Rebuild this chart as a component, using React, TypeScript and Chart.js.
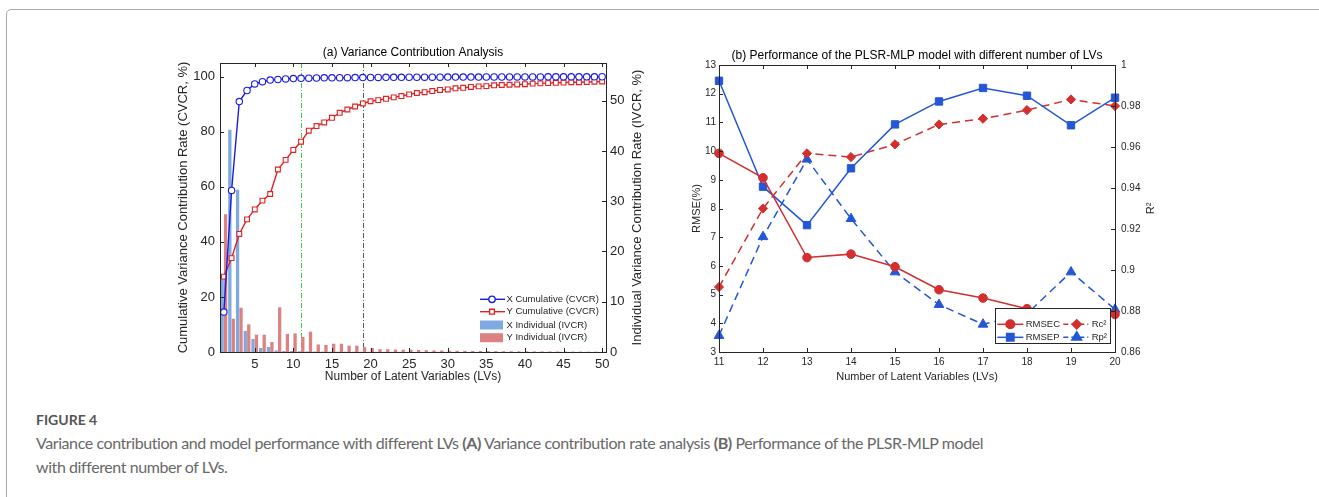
import React, { useEffect, useRef } from "react";
import { Chart, registerables } from "chart.js";
import { drawPoint } from "chart.js/helpers";

Chart.register(...registerables);

const FONT = '"Liberation Sans", Arial, Helvetica, sans-serif';
const TEXT = "#262626";

// ---------- Panel (a): variance contribution ----------
const lvsA = [
  1, 2, 3, 4, 5, 6, 7, 8, 9, 10, 11, 12, 13, 14, 15, 16, 17, 18, 19, 20, 21, 22, 23, 24, 25,
  26, 27, 28, 29, 30, 31, 32, 33, 34, 35, 36, 37, 38, 39, 40, 41, 42, 43, 44, 45, 46, 47, 48, 49, 50,
];
const xCumulative = [
  14.5, 58.7, 91.0, 95.0, 97.4, 98.2, 98.8, 99.0, 99.2, 99.35, 99.45, 99.5, 99.55, 99.6, 99.62,
  99.65, 99.67, 99.7, 99.72, 99.74, 99.76, 99.78, 99.8, 99.81, 99.82, 99.83, 99.84, 99.85, 99.86,
  99.87, 99.88, 99.89, 99.9, 99.9, 99.91, 99.92, 99.92, 99.93, 99.94, 99.94, 99.95, 99.95, 99.96,
  99.96, 99.97, 99.97, 99.98, 99.98, 99.99, 100.0,
];
const yCumulative = [
  27.4, 34.1, 42.9, 48.2, 51.8, 55.0, 57.4, 66.3, 69.8, 73.4, 76.4, 80.4, 82.1, 83.4, 85.1, 86.9,
  88.1, 89.2, 90.3, 91.1, 91.5, 92.0, 92.5, 93.0, 93.6, 94.1, 94.4, 94.8, 95.2, 95.4, 95.8, 96.0,
  96.3, 96.5, 96.6, 96.9, 97.0, 97.1, 97.2, 97.3, 97.5, 97.6, 97.7, 97.8, 97.9, 98.0, 98.0, 98.1,
  98.2, 98.3,
];
const xIndividual = [
  14.5, 44.2, 32.3, 4.2, 2.6, 0.8, 1.0, 0.3, 0.2, 0.2, 0.15, 0.12, 0.1, 0.08, 0.07, 0.06, 0.05,
  0.05, 0.04, 0.04, 0.03, 0.03, 0.03, 0.03, 0.02, 0.02, 0.02, 0.02, 0.02, 0.02, 0.02, 0.01, 0.01,
  0.01, 0.01, 0.01, 0.01, 0.01, 0.01, 0.01, 0.01, 0.01, 0.01, 0.01, 0.01, 0.01, 0.01, 0.01, 0.01, 0.01,
];
const yIndividual = [
  27.4, 6.6, 8.8, 5.5, 3.45, 3.45, 2.0, 8.9, 3.6, 3.7, 3.0, 4.05, 1.5, 1.4, 1.65, 1.65, 1.25, 1.25,
  1.0, 0.8, 0.55, 0.55, 0.47, 0.45, 0.45, 0.4, 0.35, 0.3, 0.3, 0.25, 0.25, 0.22, 0.2, 0.2, 0.18,
  0.17, 0.16, 0.15, 0.14, 0.13, 0.12, 0.11, 0.1, 0.1, 0.09, 0.08, 0.08, 0.07, 0.06, 0.05,
];
const cvcrTicks = [0, 20, 40, 60, 80, 100];
const ivcrTicks = [0, 10, 20, 30, 40, 50];
const lvTicksA = [5, 10, 15, 20, 25, 30, 35, 40, 45, 50];
const referenceLVs = [11, 19];

// ---------- Panel (b): PLSR-MLP performance ----------
const lvsB = [11, 12, 13, 14, 15, 16, 17, 18, 19, 20];
const rmsec = [9.92, 9.07, 6.29, 6.41, 5.97, 5.17, 4.88, 4.51, 4.12, 4.31];
const rmsep = [12.45, 8.76, 7.42, 9.4, 10.93, 11.73, 12.2, 11.93, 10.9, 11.86];
const rc2 = [0.8917, 0.93, 0.9569, 0.9551, 0.9613, 0.971, 0.9738, 0.978, 0.9832, 0.98];
const rp2 = [0.868, 0.9162, 0.954, 0.925, 0.899, 0.8831, 0.8735, 0.8787, 0.899, 0.8808];
const rmseTicks = [3, 4, 5, 6, 7, 8, 9, 10, 11, 12, 13];
const r2Ticks = [0.86, 0.88, 0.9, 0.92, 0.94, 0.96, 0.98, 1];

const A_BLUE = "#1c1ce0";
const A_RED = "#e02222";
const BAR_BLUE = "#7eaadf";
const BAR_RED = "#dc8282";
const B_RED = "#d42f2f";
const B_BLUE = "#2457d6";

function px(v: number) {
  return Math.round(v) + 0.5;
}

function drawFrame(ctx: CanvasRenderingContext2D, a: any, xs: number[], yl: number[], yr: number[]) {
  const len = 4;
  ctx.save();
  ctx.strokeStyle = TEXT;
  ctx.lineWidth = 1;
  ctx.setLineDash([]);
  ctx.strokeRect(px(a.left), px(a.top), Math.round(a.right) - Math.round(a.left), Math.round(a.bottom) - Math.round(a.top));
  ctx.beginPath();
  xs.forEach((x) => {
    ctx.moveTo(px(x), a.bottom);
    ctx.lineTo(px(x), a.bottom - len);
    ctx.moveTo(px(x), a.top);
    ctx.lineTo(px(x), a.top + len);
  });
  yl.forEach((y) => {
    ctx.moveTo(a.left, px(y));
    ctx.lineTo(a.left + len, px(y));
  });
  yr.forEach((y) => {
    ctx.moveTo(a.right, px(y));
    ctx.lineTo(a.right - len, px(y));
  });
  ctx.stroke();
  ctx.restore();
}

function rotatedText(ctx: CanvasRenderingContext2D, text: string, x: number, y: number, size: number) {
  ctx.save();
  ctx.translate(x, y);
  ctx.rotate(-Math.PI / 2);
  ctx.font = `${size}px ${FONT}`;
  ctx.fillStyle = TEXT;
  ctx.textAlign = "center";
  ctx.textBaseline = "middle";
  ctx.fillText(text, 0, 0);
  ctx.restore();
}

function marker(ctx: CanvasRenderingContext2D, style: string, r: number, x: number, y: number, stroke: string, fill: string, bw: number) {
  ctx.save();
  ctx.setLineDash([]);
  ctx.strokeStyle = stroke;
  ctx.fillStyle = fill;
  drawPoint(ctx, { pointStyle: style as any, radius: r, rotation: 0, borderWidth: bw } as any, x, y);
  ctx.restore();
}

const panelAPlugin = {
  id: "panelA",
  beforeDatasetsDraw(chart: any) {
    const { ctx, chartArea: a, scales } = chart;
    const colors = ["#3fd03f", "#5a5a5a"];
    ctx.save();
    ctx.lineWidth = 1;
    ctx.setLineDash([5, 2, 1, 2]);
    referenceLVs.forEach((lv, i) => {
      const x = px(scales.x.getPixelForValue(lvsA.indexOf(lv)));
      ctx.strokeStyle = colors[i];
      ctx.beginPath();
      ctx.moveTo(x, a.top);
      ctx.lineTo(x, a.bottom);
      ctx.stroke();
    });
    ctx.restore();
  },
  afterDatasetsDraw(chart: any) {
    const { ctx, chartArea: a, scales } = chart;
    const xs = lvTicksA.map((lv) => scales.x.getPixelForValue(lvsA.indexOf(lv)));
    const yl = cvcrTicks.map((v) => scales.y.getPixelForValue(v));
    const yr = ivcrTicks.map((v) => scales.y1.getPixelForValue(v));
    drawFrame(ctx, a, xs, yl, yr);

    // legend
    const items = [
      { kind: "line", color: A_BLUE, style: "circle", r: 3.2, text: "X Cumulative (CVCR)", dy: -52.7 },
      { kind: "line", color: A_RED, style: "rect", r: 3.4, text: "Y Cumulative (CVCR)", dy: -40.3 },
      { kind: "patch", color: BAR_BLUE, text: "X Individual (IVCR)", dy: -27 },
      { kind: "patch", color: BAR_RED, text: "Y Individual (IVCR)", dy: -14.3 },
    ];
    ctx.save();
    ctx.font = `9.5px ${FONT}`;
    ctx.textBaseline = "middle";
    items.forEach((it) => {
      const y = a.bottom + it.dy;
      if (it.kind === "line") {
        ctx.strokeStyle = it.color;
        ctx.lineWidth = 1.4;
        ctx.beginPath();
        ctx.moveTo(a.right - 126, y);
        ctx.lineTo(a.right - 101, y);
        ctx.stroke();
        marker(ctx, it.style!, it.r!, a.right - 114, y, it.color, "#fff", 1.1);
      } else {
        ctx.fillStyle = it.color;
        ctx.fillRect(a.right - 126, y - 4.5, 23, 9);
      }
      ctx.fillStyle = TEXT;
      ctx.fillText(it.text, a.right - 99.5, y);
    });
    ctx.restore();

    rotatedText(ctx, "Individual Variance Contribution Rate (IVCR, %)", a.right + 31, (a.top + a.bottom) / 2, 13);
  },
};

const panelBPlugin = {
  id: "panelB",
  afterDatasetsDraw(chart: any) {
    const { ctx, chartArea: a, scales } = chart;
    const xs = lvsB.map((_, i) => scales.x.getPixelForValue(i));
    const yl = rmseTicks.map((v) => scales.y.getPixelForValue(v));
    const yr = r2Ticks.map((v) => scales.y1.getPixelForValue(v));
    drawFrame(ctx, a, xs, yl, yr);

    // legend box
    ctx.save();
    const L = a.right - 120;
    const T = a.bottom - 43.7;
    ctx.fillStyle = "#fff";
    ctx.fillRect(L, T, 115, 35);
    ctx.strokeStyle = TEXT;
    ctx.lineWidth = 1;
    ctx.strokeRect(px(L), px(T), 115, 35);
    const items = [
      { col: 0, row: -27.7, color: B_RED, style: "circle", r: 4.3, dash: [] as number[], text: "RMSEC" },
      { col: 0, row: -14.7, color: B_BLUE, style: "rect", r: 5.2, dash: [] as number[], text: "RMSEP" },
      { col: 1, row: -27.7, color: B_RED, style: "rectRot", r: 4.6, dash: [5, 3], text: "Rc²" },
      { col: 1, row: -14.7, color: B_BLUE, style: "triangle", r: 5.6, dash: [5, 3], text: "Rp²" },
    ];
    ctx.font = `9.5px ${FONT}`;
    ctx.textBaseline = "middle";
    items.forEach((it) => {
      const x0 = it.col === 0 ? a.right - 117.7 : a.right - 51.7;
      const x1 = it.col === 0 ? a.right - 91.7 : a.right - 26.7;
      const xm = it.col === 0 ? a.right - 104.7 : a.right - 38.3;
      const xt = it.col === 0 ? a.right - 89.3 : a.right - 23.3;
      const y = a.bottom + it.row;
      ctx.strokeStyle = it.color;
      ctx.lineWidth = 1.5;
      ctx.setLineDash(it.dash);
      ctx.beginPath();
      ctx.moveTo(x0, y);
      ctx.lineTo(x1, y);
      ctx.stroke();
      marker(ctx, it.style, it.r, xm, y, it.color, it.color, 1);
      ctx.fillStyle = TEXT;
      ctx.fillText(it.text, xt, y);
    });
    ctx.restore();

    rotatedText(ctx, "R²", a.right + 36, (a.top + a.bottom) / 2, 11);
  },
};

function buildA(canvas: HTMLCanvasElement) {
  return new Chart(canvas, {
    type: "bar",
    data: {
      labels: lvsA.map(String),
      datasets: [
        {
          type: "line",
          label: "X Cumulative (CVCR)",
          data: xCumulative,
          yAxisID: "y",
          borderColor: A_BLUE,
          borderWidth: 1.4,
          pointStyle: "circle",
          pointRadius: 3.2,
          pointBorderWidth: 1.1,
          pointBorderColor: A_BLUE,
          pointBackgroundColor: "#fff",
          order: 1,
        },
        {
          type: "line",
          label: "Y Cumulative (CVCR)",
          data: yCumulative,
          yAxisID: "y",
          borderColor: A_RED,
          borderWidth: 1.4,
          pointStyle: "rect",
          pointRadius: 3.4,
          pointBorderWidth: 1.1,
          pointBorderColor: A_RED,
          pointBackgroundColor: "#fff",
          order: 1,
        },
        {
          type: "bar",
          label: "X Individual (IVCR)",
          data: xIndividual,
          yAxisID: "y1",
          backgroundColor: BAR_BLUE,
          categoryPercentage: 0.9,
          barPercentage: 0.95,
          order: 2,
        },
        {
          type: "bar",
          label: "Y Individual (IVCR)",
          data: yIndividual,
          yAxisID: "y1",
          backgroundColor: BAR_RED,
          categoryPercentage: 0.9,
          barPercentage: 0.95,
          order: 2,
        },
      ] as any,
    },
    options: {
      responsive: false,
      animation: false,
      layout: { padding: 0 },
      plugins: {
        legend: { display: false },
        tooltip: { enabled: false },
        title: {
          display: true,
          text: "(a) Variance Contribution Analysis",
          color: "#000",
          font: { family: FONT, size: 12, weight: "normal" },
          padding: { top: 5.8, bottom: 2.8 },
        },
      },
      scales: {
        x: {
          type: "category",
          offset: true,
          grid: { display: false, drawTicks: false },
          border: { display: false },
          ticks: {
            autoSkip: false,
            maxRotation: 0,
            padding: 4.2,
            color: TEXT,
            font: { family: FONT, size: 13 },
            callback: (_v: any, i: number) => (lvTicksA.includes(lvsA[i]) ? String(lvsA[i]) : ""),
          },
          title: {
            display: true,
            text: "Number of Latent Variables (LVs)",
            color: TEXT,
            font: { family: FONT, size: 12 },
            padding: { top: 0, bottom: 5.8 },
          },
          afterFit: (s: any) => {
            s.height = 38;
          },
        },
        y: {
          position: "left",
          min: 0,
          max: 105,
          grid: { display: false, drawTicks: false },
          border: { display: false },
          afterBuildTicks: (s: any) => {
            s.ticks = cvcrTicks.map((value) => ({ value }));
          },
          ticks: { padding: 5, color: TEXT, font: { family: FONT, size: 13 }, callback: (v: any) => String(v) },
          title: {
            display: true,
            text: "Cumulative Variance Contribution Rate (CVCR, %)",
            color: TEXT,
            font: { family: FONT, size: 13 },
            padding: { top: 55.2, bottom: 0 },
          },
          afterFit: (s: any) => {
            s.width = 100;
          },
        },
        y1: {
          position: "right",
          min: 0,
          max: 57.5,
          grid: { display: false, drawTicks: false },
          border: { display: false },
          afterBuildTicks: (s: any) => {
            s.ticks = ivcrTicks.map((value) => ({ value }));
          },
          ticks: { padding: 4, color: TEXT, font: { family: FONT, size: 13 }, callback: (v: any) => String(v) },
          afterFit: (s: any) => {
            s.width = 100;
          },
        },
      },
    } as any,
    plugins: [panelAPlugin],
  });
}

function buildB(canvas: HTMLCanvasElement) {
  return new Chart(canvas, {
    type: "line",
    data: {
      labels: lvsB.map(String),
      datasets: [
        {
          label: "RMSEC",
          data: rmsec,
          yAxisID: "y",
          borderColor: B_RED,
          backgroundColor: B_RED,
          borderWidth: 1.5,
          pointStyle: "circle",
          pointRadius: 4.3,
          pointBorderWidth: 1,
        },
        {
          label: "RMSEP",
          data: rmsep,
          yAxisID: "y",
          borderColor: B_BLUE,
          backgroundColor: B_BLUE,
          borderWidth: 1.5,
          pointStyle: "rect",
          pointRadius: 5.2,
          pointBorderWidth: 1,
        },
        {
          label: "Rc²",
          data: rc2,
          yAxisID: "y1",
          borderColor: B_RED,
          backgroundColor: B_RED,
          borderWidth: 1.5,
          borderDash: [8, 5],
          pointStyle: "rectRot",
          pointRadius: 4.6,
          pointBorderWidth: 1,
        },
        {
          label: "Rp²",
          data: rp2,
          yAxisID: "y1",
          borderColor: B_BLUE,
          backgroundColor: B_BLUE,
          borderWidth: 1.5,
          borderDash: [8, 5],
          pointStyle: "triangle",
          pointRadius: 5.6,
          pointBorderWidth: 1,
        },
      ] as any,
    },
    options: {
      responsive: false,
      animation: false,
      layout: { padding: 0 },
      plugins: {
        legend: { display: false },
        tooltip: { enabled: false },
        title: {
          display: true,
          text: "(b) Performance of the PLSR-MLP model with different number of LVs",
          color: "#000",
          font: { family: FONT, size: 12, weight: "normal" },
          padding: { top: 8.3, bottom: 2.3 },
        },
      },
      scales: {
        x: {
          type: "category",
          offset: false,
          grid: { display: false, drawTicks: false },
          border: { display: false },
          ticks: { autoSkip: false, maxRotation: 0, padding: 4.3, color: TEXT, font: { family: FONT, size: 10 } },
          title: {
            display: true,
            text: "Number of Latent Variables (LVs)",
            color: TEXT,
            font: { family: FONT, size: 11 },
            padding: { top: 0, bottom: 6.4 },
          },
          afterFit: (s: any) => {
            s.height = 38;
          },
        },
        y: {
          position: "left",
          min: 3,
          max: 13,
          grid: { display: false, drawTicks: false },
          border: { display: false },
          afterBuildTicks: (s: any) => {
            s.ticks = rmseTicks.map((value) => ({ value }));
          },
          ticks: { padding: 3, color: TEXT, font: { family: FONT, size: 10 }, callback: (v: any) => String(v) },
          title: {
            display: true,
            text: "RMSE(%)",
            color: TEXT,
            font: { family: FONT, size: 11 },
            padding: { top: 16.4, bottom: 0 },
          },
          afterFit: (s: any) => {
            s.width = 45;
          },
        },
        y1: {
          position: "right",
          min: 0.86,
          max: 1,
          grid: { display: false, drawTicks: false },
          border: { display: false },
          afterBuildTicks: (s: any) => {
            s.ticks = r2Ticks.map((value) => ({ value }));
          },
          ticks: {
            padding: 6,
            color: TEXT,
            font: { family: FONT, size: 10 },
            callback: (v: any) => String(Number(Number(v).toFixed(2))),
          },
          afterFit: (s: any) => {
            s.width = 45;
          },
        },
      },
    } as any,
    plugins: [panelBPlugin],
  });
}

export default function App() {
  const refA = useRef<HTMLCanvasElement>(null);
  const refB = useRef<HTMLCanvasElement>(null);

  useEffect(() => {
    const ca = buildA(refA.current as HTMLCanvasElement);
    const cb = buildB(refB.current as HTMLCanvasElement);
    return () => {
      ca.destroy();
      cb.destroy();
    };
  }, []);

  return (
    <div
      style={{
        position: "fixed",
        left: 0,
        top: 0,
        width: 1319,
        height: 497,
        overflow: "hidden",
        background: "#fff",
      }}
    >
      <div
        style={{
          position: "absolute",
          left: 6,
          top: 9,
          width: 1400,
          height: 600,
          border: "1px solid #a8a8a8",
          borderRadius: 5,
          boxSizing: "border-box",
        }}
      />
      <canvas ref={refA} width={586} height={350} style={{ position: "absolute", left: 120, top: 40 }} />
      <canvas ref={refB} width={486} height={350} style={{ position: "absolute", left: 674, top: 40 }} />
      <div
        style={{
          position: "absolute",
          left: 36,
          top: 410,
          font: "bold 14px Lato, 'Open Sans', sans-serif",
          color: "#555",
          lineHeight: "20px",
          whiteSpace: "nowrap",
        }}
      >
        FIGURE 4
      </div>
      <div
        style={{
          position: "absolute",
          left: 36,
          top: 431,
          font: "16px Lato, 'Open Sans', sans-serif",
          letterSpacing: "-0.42px",
          color: "#686868",
          lineHeight: "24px",
          whiteSpace: "nowrap",
        }}
      >
        Variance contribution and model performance with different LVs <b>(A)</b> Variance contribution rate
        analysis <b>(B)</b> Performance of the PLSR-MLP model
        <br />
        with different number of LVs.
      </div>
    </div>
  );
}
